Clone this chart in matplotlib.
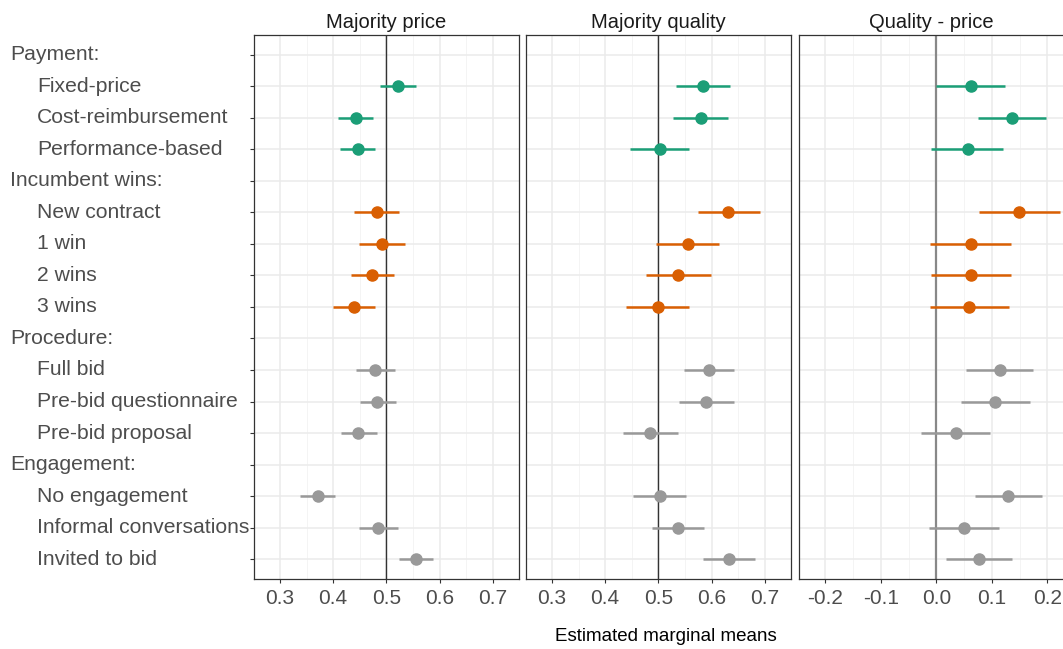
import matplotlib.pyplot as plt
import matplotlib.transforms as mtransforms
import numpy as np

plt.rcParams['font.family'] = ['Liberation Sans', 'DejaVu Sans']

# Row labels (top to bottom); headers have no estimates
labels = ['Payment:', 'Fixed-price', 'Cost-reimbursement', 'Performance-based',
          'Incumbent wins:', 'New contract', '1 win', '2 wins', '3 wins',
          'Procedure:', 'Full bid', 'Pre-bid questionnaire', 'Pre-bid proposal',
          'Engagement:', 'No engagement', 'Informal conversations', 'Invited to bid']
is_header = [True, False, False, False, True, False, False, False, False,
             True, False, False, False, True, False, False, False]
groups = ['pay', 'pay', 'pay', 'pay', 'inc', 'inc', 'inc', 'inc', 'inc',
          'oth', 'oth', 'oth', 'oth', 'oth', 'oth', 'oth', 'oth']

panels = ['Majority price', 'Majority quality', 'Quality - price']

# estimates / lower / upper for the 13 non-header rows
price_est = [0.522, 0.442, 0.446, 0.483, 0.492, 0.473, 0.440,
             0.479, 0.483, 0.447, 0.371, 0.485, 0.555]
price_lo = [0.487, 0.409, 0.413, 0.440, 0.448, 0.434, 0.399,
            0.443, 0.451, 0.415, 0.338, 0.448, 0.524]
price_hi = [0.555, 0.475, 0.479, 0.524, 0.534, 0.514, 0.479,
            0.516, 0.517, 0.482, 0.404, 0.521, 0.588]

quality_est = [0.583, 0.580, 0.502, 0.631, 0.555, 0.537, 0.499,
               0.594, 0.590, 0.485, 0.502, 0.537, 0.633]
quality_lo = [0.532, 0.528, 0.446, 0.574, 0.496, 0.477, 0.440,
              0.547, 0.539, 0.434, 0.453, 0.488, 0.584]
quality_hi = [0.635, 0.631, 0.557, 0.691, 0.613, 0.598, 0.557,
              0.641, 0.641, 0.536, 0.552, 0.585, 0.682]

diff_est = [0.063, 0.137, 0.056, 0.148, 0.063, 0.063, 0.058,
            0.115, 0.106, 0.035, 0.129, 0.049, 0.076]
diff_lo = [0.000, 0.075, -0.009, 0.077, -0.011, -0.009, -0.011,
           0.053, 0.045, -0.027, 0.069, -0.013, 0.017]
diff_hi = [0.124, 0.198, 0.120, 0.222, 0.134, 0.134, 0.130,
           0.174, 0.168, 0.096, 0.190, 0.112, 0.136]

colors = {'pay': '#1B9E77', 'inc': '#D95F02', 'oth': '#999999'}

data = [(price_est, price_lo, price_hi),
        (quality_est, quality_lo, quality_hi),
        (diff_est, diff_lo, diff_hi)]
xlims = [(0.252, 0.748), (0.252, 0.748), (-0.247, 0.229)]
refs = [0.5, 0.5, 0.0]
ref_colors = ['#333333', '#333333', '#888888']
major = [np.arange(0.3, 0.71, 0.1), np.arange(0.3, 0.71, 0.1), np.arange(-0.2, 0.21, 0.1)]
minor = [np.arange(0.25, 0.76, 0.1), np.arange(0.25, 0.76, 0.1), np.arange(-0.25, 0.26, 0.1)]
ticklabels = [['0.3', '0.4', '0.5', '0.6', '0.7'], ['0.3', '0.4', '0.5', '0.6', '0.7'],
              ['-0.2', '-0.1', '0.0', '0.1', '0.2']]
lefts = [0.2392, 0.4951, 0.7520]
width = 0.2487

fig = plt.figure(figsize=(10.63, 6.49), dpi=100)

rows = [i for i, h in enumerate(is_header) if not h]
ypos = np.arange(len(labels))

for k in range(3):
    ax = fig.add_axes([lefts[k], 0.108, width if k < 2 else 0.2485, 0.838])
    est, lo, hi = data[k]
    ax.set_xlim(*xlims[k])
    ax.set_ylim(len(labels) - 1 + 0.63, -0.63)
    for x in minor[k]:
        ax.axvline(x, color='#F2F2F2', lw=0.6, zorder=0)
    for x in major[k]:
        ax.axvline(x, color='#EBEBEB', lw=1.1, zorder=0)
    for y in ypos:
        ax.axhline(y, color='#EBEBEB', lw=1.1, zorder=0)
    ax.axvline(refs[k], color=ref_colors[k], lw=1.0 if k < 2 else 1.6, zorder=1)
    for j, r in enumerate(rows):
        c = colors[groups[r]]
        ax.plot([lo[j], hi[j]], [r, r], color=c, lw=1.8, solid_capstyle='butt', zorder=2)
        ax.plot(est[j], r, 'o', color=c, ms=8, zorder=3)
    ax.set_xticks(major[k])
    ax.set_xticklabels(ticklabels[k], fontsize=15, color='#4D4D4D')
    ax.set_yticks(ypos)
    ax.set_yticklabels([])
    ax.tick_params(axis='x', length=3, color='#333333', pad=4)
    ax.tick_params(axis='y', length=3 if k == 0 else 0, color='#333333')
    for s in ax.spines.values():
        s.set_color('#333333')
        s.set_linewidth(0.9)
    if k == 2:
        ax.spines['right'].set_visible(False)
    ax.set_title(panels[k], fontsize=14.5, color='#1A1A1A', pad=5)
    if k == 0:
        trans = mtransforms.blended_transform_factory(fig.transFigure, ax.transData)
        for i, lab in enumerate(labels):
            xx = 10 / 1063 if is_header[i] else 37 / 1063
            ax.text(xx, i, lab, transform=trans, ha='left', va='center',
                    fontsize=15.2, color='#4D4D4D')

fig.text(0.626, 0.02, 'Estimated marginal means', ha='center', va='center', fontsize=13.5)

fig.savefig('out.png', dpi=100)
